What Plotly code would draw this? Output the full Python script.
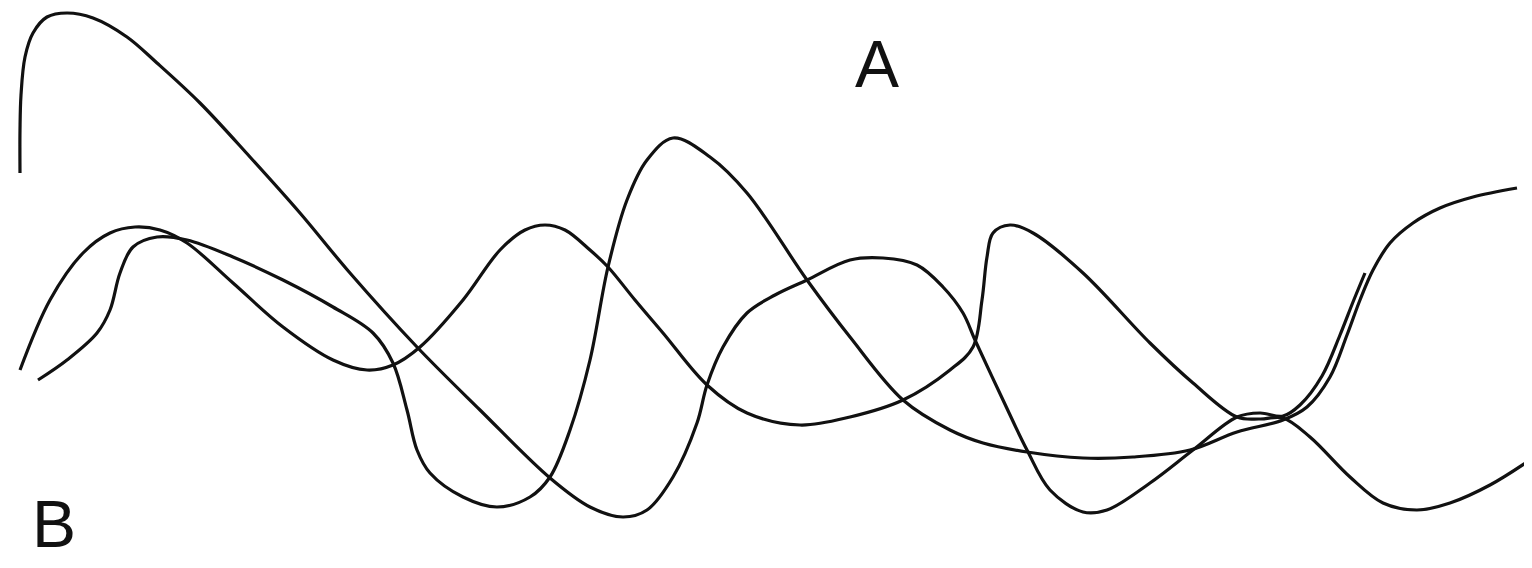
import plotly.graph_objects as go


# pixel-space coordinates (x right, y down)
curve_p_x = [20, 20, 21, 25, 33, 47, 67, 93, 127, 157, 200, 250, 300, 350, 417, 480,
             550, 590, 623, 647, 673, 697, 707, 723, 747, 775, 807, 850, 883, 917,
             943, 963, 975, 1003, 1027, 1050, 1083, 1107, 1150, 1193, 1237, 1260,
             1283, 1300, 1322, 1340, 1353, 1365]
curve_p_y = [173, 130, 95, 57, 33, 17, 13, 18, 37, 63, 103, 157, 213, 273, 347, 410,
             478, 507, 517, 510, 477, 423, 385, 347, 313, 295, 280, 260, 258, 265,
             287, 313, 340, 400, 450, 490, 512, 510, 483, 450, 417, 413,
             416, 405, 376, 335, 302, 273]

curve_q_x = [20, 50, 83, 110, 135, 160, 187, 233, 283, 333, 367, 393, 420, 463, 500,
             525, 545, 565, 590, 608, 635, 663, 707, 747, 800, 850, 903, 950, 973,
             982, 987, 993, 1010, 1033, 1083, 1150, 1193, 1237, 1260, 1283, 1310,
             1350, 1383, 1417, 1450, 1490, 1530]
curve_q_y = [370, 300, 253, 233, 227, 230, 243, 283, 327, 360, 370, 365, 347, 300, 250,
             230, 225, 230, 250, 267, 300, 333, 385, 413, 425, 417, 400, 370, 347,
             300, 257, 233, 225, 233, 273, 343, 383, 417, 419, 418, 437,
             477, 503, 510, 503, 485, 460]

curve_r_x = [38, 67, 97, 110, 120, 133, 157, 187, 233, 283, 333, 373, 393, 407, 417,
             430, 463, 497, 530, 550, 570, 590, 608, 627, 647, 673, 710, 747, 807,
             850, 903, 950, 983, 1027, 1083, 1133, 1190, 1237, 1283, 1307, 1330,
             1347, 1360, 1373, 1390, 1413, 1440, 1473, 1517]
curve_r_y = [380, 360, 333, 310, 273, 247, 237, 240, 257, 280, 307, 333, 363, 410, 450,
             473, 497, 507, 497, 477, 430, 360, 267, 200, 160, 138, 157, 193, 280,
             337, 400, 430, 443, 452, 458, 457, 450, 432, 420, 407, 377,
             335, 300, 270, 243, 223, 208, 197, 188]

labels = ["A", "B"]
label_x = [877, 54]
label_y = [64, 524]

LINE_COLOR = "#111111"

# page body keeps its default 8px margin, so the plot area spans 8..1524 x 8..560
X_RANGE = [8, 1524]
Y_RANGE = [560, 8]


def build_figure():
    fig = go.Figure()

    for xs, ys in [(curve_p_x, curve_p_y), (curve_q_x, curve_q_y), (curve_r_x, curve_r_y)]:
        fig.add_trace(go.Scatter(
            x=xs,
            y=ys,
            mode="lines",
            line=dict(color=LINE_COLOR, width=3.2, shape="spline", smoothing=1.0),
            hoverinfo="skip",
            showlegend=False
        ))

    for text, x, y in zip(labels, label_x, label_y):
        fig.add_annotation(
            x=x, y=y, text=text, showarrow=False,
            font=dict(family="Liberation Sans, Arial", size=66, color=LINE_COLOR)
        )

    fig.update_layout(
        template="plotly_white",
        margin=dict(l=0, r=0, t=0, b=0),
        plot_bgcolor="white",
        paper_bgcolor="white",
        xaxis=dict(range=X_RANGE, visible=False, fixedrange=True),
        yaxis=dict(range=Y_RANGE, visible=False, fixedrange=True),
    )
    return fig


def main():
    fig = build_figure()
    fig.write_html("out.html")


if __name__ == "__main__":
    main()
